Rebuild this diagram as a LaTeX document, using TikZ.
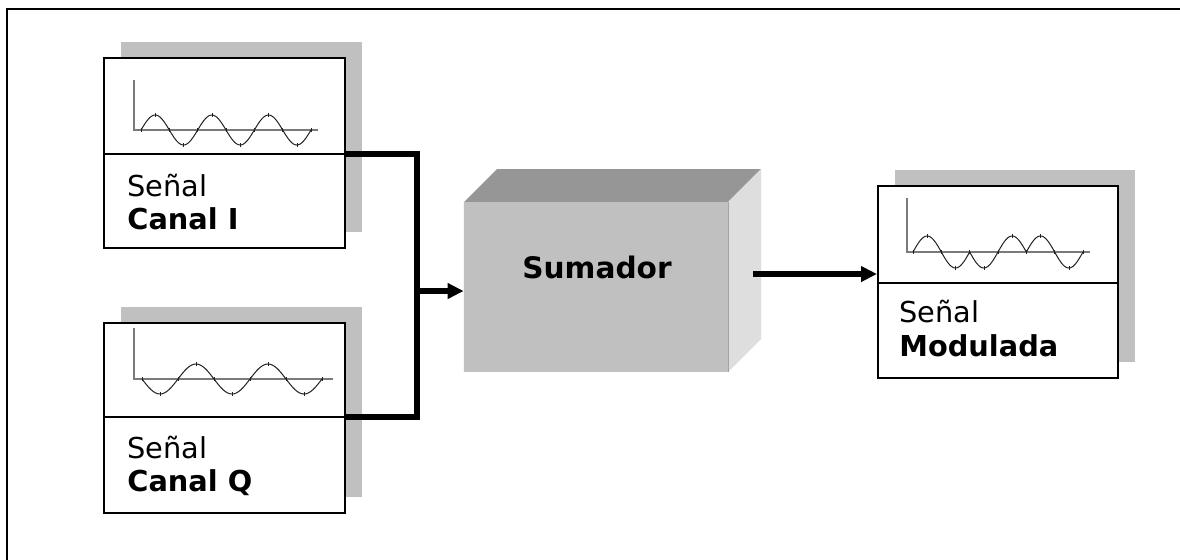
\documentclass[tikz,border=0pt]{standalone}
\usepackage{fontspec}
\setmainfont{DejaVu Sans}
\usetikzlibrary{arrows.meta}
\definecolor{shade}{HTML}{C0C0C0}
\definecolor{topface}{HTML}{969696}
\definecolor{sideface}{HTML}{DEDEDE}
\definecolor{axisgray}{HTML}{7A7A7A}
\definecolor{wavegray}{HTML}{222222}
\tikzset{
  sigbox/.style={draw=black, line width=1pt, fill=white, minimum width=120.5pt, minimum height=95pt, inner sep=0pt},
  shadowbox/.style={fill=shade, minimum width=120.5pt, minimum height=95pt, inner sep=0pt},
  divline/.style={draw=black, line width=1pt},
  axisline/.style={draw=axisgray, line width=0.55pt},
  waveline/.style={draw=wavegray, line width=0.5pt},
  tickline/.style={draw=wavegray, line width=0.3pt},
  wire/.style={draw=black, line width=2.6pt, line join=miter},
  flow/.style={wire, -{Triangle[length=8pt,width=7.5pt]}},
  lbl/.style={anchor=base west, inner sep=0pt, font=\fontsize{14.4pt}{16.5pt}\selectfont},
  lblb/.style={lbl, font=\fontsize{14.4pt}{16.5pt}\selectfont\bfseries},
  frame/.style={draw=black, line width=1.3pt}
}
\begin{document}
\begin{tikzpicture}[x=0.5pt, y=-0.5pt]
  \useasboundingbox[fill=white] (0,0) rectangle (1180,559);
  \clip (0,0) rectangle (1180,559);
  % outer frame (only its top and left sides fall inside the page)
  \draw[frame] (7,9) rectangle (1200,600);

  % ---------- channel I ----------
  \node[shadowbox] (sI) at (241,136.5) {};
  \node[sigbox] (bI) at (224.5,152.5) {};
  \coordinate (iL) at (104,154);
  \coordinate (iR) at (345,154);
  \draw[divline] (iL) -- (iR);
  \draw[axisline] (134,80) -- (134,130) -- (318,130);
  \draw[waveline] plot[domain=0:1080, samples=120, smooth] ({141+\x*0.15742}, {130-15*sin(\x)});
  \foreach \k in {0,...,12}
    \draw[tickline] ({141+\k*14.1675}, {130-15*sin(\k*90)-2}) -- ++(0,4);
  \node[lbl]  (iT1) at (127,196) {Señal};
  \node[lblb] (iT2) at (127,229) {Canal I};

  % ---------- channel Q ----------
  \node[shadowbox] (sQ) at (241,401.5) {};
  \node[sigbox] (bQ) at (224.5,417.5) {};
  \coordinate (qL) at (104,417);
  \coordinate (qR) at (345,417);
  \draw[divline] (qL) -- (qR);
  \draw[axisline] (134,328) -- (134,379) -- (333,379);
  \draw[waveline] plot[domain=0:900, samples=120, smooth] ({142+\x*0.2}, {379+15*sin(\x)});
  \foreach \k in {0,...,10}
    \draw[tickline] ({142+\k*18}, {379+15*sin(\k*90)-2}) -- ++(0,4);
  \node[lbl]  (qT1) at (127,458) {Señal};
  \node[lblb] (qT2) at (127,491) {Canal Q};

  % ---------- adder block ----------
  \fill[topface]  (464,202) -- (497,169) -- (761,169) -- (728,202) -- cycle;
  \fill[sideface] (728,202) -- (761,169) -- (761,339) -- (728,372) -- cycle;
  \node[fill=shade, minimum width=132pt, minimum height=85pt, inner sep=0pt] (sum) at (596,287) {};
  \draw[white!85!shade, line width=0.6pt] (sum.south west) -- (sum.north west);
  \draw[shade!85!black, line width=0.6pt] (sum.north east) -- (sum.south east);
  \node[anchor=base, inner sep=0pt, font=\fontsize{14.8pt}{17pt}\selectfont\bfseries] (sumT) at (597,278) {Sumador};

  % ---------- modulated signal ----------
  \node[shadowbox, minimum width=120pt, minimum height=96pt] (sM) at (1015,265.5) {};
  \node[sigbox, minimum width=120pt, minimum height=96pt] (mod) at (998,282) {};
  \coordinate (mL) at (878,283);
  \coordinate (mR) at (1118,283);
  \draw[divline] (mL) -- (mR);
  \draw[axisline] (907,198) -- (907,252) -- (1090,252);
  \foreach \k/\s in {0/1,1/-1,2/-1,3/1,4/1,5/-1} {
    \draw[waveline] plot[domain=0:180, samples=40, smooth] ({913+\k*28.33+\x*0.15739}, {252-16*\s*sin(\x)});
    \draw[tickline] ({913+(\k+0.5)*28.33}, {252-16*\s-2}) -- ++(0,4);
    \draw[tickline] ({913+\k*28.33}, 250) -- ++(0,4);
  }
  \draw[tickline] (1083,250) -- ++(0,4);
  \node[lbl]  (mT1) at (899,322) {Señal};
  \node[lblb] (mT2) at (899,356) {Modulada};

  % ---------- connectors ----------
  \coordinate (jn) at (417,291);
  \draw[wire] (iR) -| (jn) |- (qR);
  \draw[flow] (jn) -- (jn -| sum.west);
  \coordinate (sout) at (753,274);
  \draw[flow] (sout) -- (sout -| mod.west);
\end{tikzpicture}
\end{document}
